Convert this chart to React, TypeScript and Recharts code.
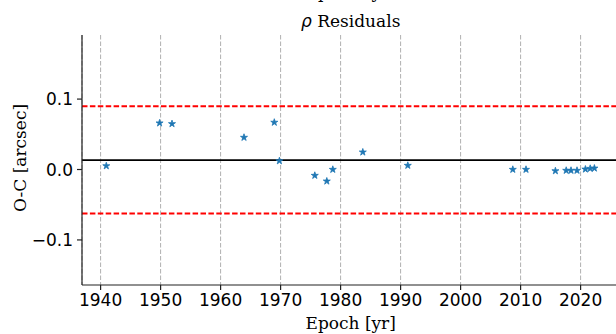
import React from "react";
import {
  ScatterChart,
  Scatter,
  XAxis,
  YAxis,
  CartesianGrid,
  ReferenceLine,
} from "recharts";

// Observation epochs (yr) and separation residuals O-C (arcsec)
const epochs: number[] = [
  1940.95, 1949.83, 1951.9, 1963.9, 1968.95, 1969.8, 1975.7, 1977.7, 1978.7,
  1983.7, 1991.2, 2008.7, 2010.9, 2015.8, 2017.6, 2018.4, 2019.4, 2020.8,
  2021.6, 2022.3,
];
const residuals: number[] = [
  0.0051, 0.0659, 0.0649, 0.0455, 0.0669, 0.0122, -0.0085, -0.0166, 0.0,
  0.0246, 0.0057, 0.0, 0.0, -0.002, -0.0014, -0.0014, -0.0014, 0.0004,
  0.0014, 0.0018,
];

// Mean residual and the dashed rejection band
const meanLine = 0.0133;
const upperBand = 0.09;
const lowerBand = -0.0625;

const xTicks: number[] = [1940, 1950, 1960, 1970, 1980, 1990, 2000, 2010, 2020];
const yTicks: number[] = [-0.1, 0.0, 0.1];
const xDomain: [number, number] = [1936.9, 2026.4];
const yDomain: [number, number] = [-0.164, 0.191];

const points = epochs.map((t, i) => ({ epoch: t, oc: residuals[i] }));

const tickStyle = { fill: "#000", fontFamily: "DejaVu Sans", fontSize: 17 };
const serif = "DejaVu Serif";

const fmtY = (v: number) =>
  v < 0 ? "\u2212" + Math.abs(v).toFixed(1) : v.toFixed(1);

// Small five-pointed star marker centred on the scaled point
const StarMarker = (props: any) => {
  const { cx, cy } = props;
  if (cx == null || cy == null) return null;
  const outer = 3.7;
  const inner = outer * 0.381;
  const pts: string[] = [];
  for (let k = 0; k < 10; k++) {
    const r = k % 2 === 0 ? outer : inner;
    const a = -Math.PI / 2 + (k * Math.PI) / 5;
    pts.push(`${cx + r * Math.cos(a)},${cy + r * Math.sin(a)}`);
  }
  return (
    <polygon
      points={pts.join(" ")}
      fill="#1f77b4"
      stroke="#1f77b4"
      strokeWidth={0.8}
      strokeLinejoin="round"
    />
  );
};

export default function App() {
  return (
    <div
      style={{
        position: "fixed",
        left: 0,
        top: 0,
        width: 616,
        height: 334,
        overflow: "hidden",
        background: "#fff",
      }}
    >
      <ScatterChart
        width={640}
        height={334}
        margin={{ top: 35, right: 21, bottom: 0, left: 22 }}
      >
        <CartesianGrid
          horizontal={false}
          vertical
          stroke="#b0b0b0"
          strokeDasharray="4.5 2"
          strokeWidth={1}
        />
        <XAxis
          dataKey="epoch"
          type="number"
          domain={xDomain}
          ticks={xTicks}
          allowDataOverflow
          height={49}
          tick={tickStyle}
          tickSize={5}
          tickMargin={4}
          axisLine={{ stroke: "#222", strokeWidth: 1.2 }}
          tickLine={{ stroke: "#222", strokeWidth: 1.2 }}
        />
        <XAxis
          xAxisId="top"
          orientation="top"
          type="number"
          domain={xDomain}
          height={0}
          tick={false}
          tickLine={false}
          axisLine={{ stroke: "#222", strokeWidth: 1.2 }}
        />
        <YAxis
          dataKey="oc"
          type="number"
          domain={yDomain}
          ticks={yTicks}
          allowDataOverflow
          width={60}
          tick={tickStyle}
          tickFormatter={fmtY}
          tickSize={5}
          tickMargin={4}
          axisLine={{ stroke: "#222", strokeWidth: 1.2 }}
          tickLine={{ stroke: "#222", strokeWidth: 1.2 }}
        />
        <ReferenceLine y={upperBand} stroke="#ff0000" strokeWidth={2} strokeDasharray="5.5 2.4" />
        <ReferenceLine y={lowerBand} stroke="#ff0000" strokeWidth={2} strokeDasharray="5.5 2.4" />
        <ReferenceLine y={meanLine} stroke="#000" strokeWidth={1.8} />
        <Scatter
          data={points}
          shape={StarMarker}
          fill="#1f77b4"
          isAnimationActive={false}
        />
      </ScatterChart>
      <svg
        width={616}
        height={334}
        style={{ position: "absolute", left: 0, top: 0, pointerEvents: "none" }}
      >
        <text x={350.7} y={-2} textAnchor="middle" fontFamily={serif} fontSize={17} fill="#000">
          Epoch [yr]
        </text>
        <text x={350.7} y={27} textAnchor="middle" fontSize={17} fill="#000">
          <tspan fontFamily="DejaVu Sans" fontStyle="italic">ρ</tspan>
          <tspan fontFamily={serif}> Residuals</tspan>
        </text>
        <text x={350.7} y={329} textAnchor="middle" fontFamily={serif} fontSize={17} fill="#000">
          Epoch [yr]
        </text>
        <text
          x={0}
          y={0}
          transform="translate(26 158) rotate(-90)"
          textAnchor="middle"
          fontFamily={serif}
          fontSize={17}
          fill="#000"
        >
          O-C [arcsec]
        </text>
      </svg>
    </div>
  );
}
